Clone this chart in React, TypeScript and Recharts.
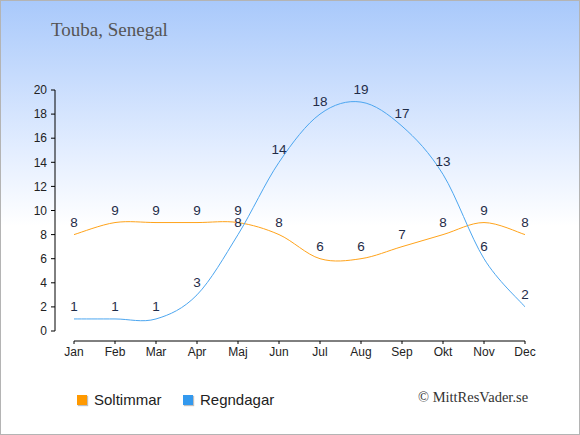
import React from "react"
import {
  LineChart,
  Line,
  XAxis,
  YAxis,
  ReferenceLine,
  LabelList,
} from "recharts"

const months = ["Jan", "Feb", "Mar", "Apr", "Maj", "Jun", "Jul", "Aug", "Sep", "Okt", "Nov", "Dec"]
const soltimmar = [8, 9, 9, 9, 9, 8, 6, 6, 7, 8, 9, 8]
const regndagar = [1, 1, 1, 3, 8, 14, 18, 19, 17, 13, 6, 2]
const yTicks = [0, 2, 4, 6, 8, 10, 12, 14, 16, 18, 20]

const SUN = "#ffa31a"
const RAIN = "#4ca6f0"
const SUN_KEY = "#ff9900"
const RAIN_KEY = "#3399ee"
const LABEL = "#1f2c48"

// x domain starts a bit left of Jan so the y axis stands apart from the first point
const X_MIN = -19 / 41
const Y_MIN = -10 / 12.05

const data = months.map((m, i) => ({
  idx: i,
  month: m,
  sol: soltimmar[i],
  regn: regndagar[i],
}))

// catmull-rom style spline, like the old highcharts "spline" look
function splineCurve(context: any) {
  let pts: [number, number][] = []
  return {
    areaStart() {},
    areaEnd() {},
    lineStart() {
      pts = []
    },
    point(x: number, y: number) {
      pts.push([+x, +y])
    },
    lineEnd() {
      if (!pts.length) return
      context.moveTo(pts[0][0], pts[0][1])
      for (let i = 0; i < pts.length - 1; i++) {
        const p0 = pts[i - 1] || pts[i]
        const p1 = pts[i]
        const p2 = pts[i + 1]
        const p3 = pts[i + 2] || pts[i + 1]
        const c1x = p1[0] + (p2[0] - p0[0]) / 6
        const c1y = p1[1] + (p2[1] - p0[1]) / 6
        const c2x = p2[0] - (p3[0] - p1[0]) / 6
        const c2y = p2[1] - (p3[1] - p1[1]) / 6
        context.bezierCurveTo(c1x, c1y, c2x, c2y, p2[0], p2[1])
      }
    },
  }
}

const tickStyle = { fill: "#222", fontSize: 12, fontFamily: "Liberation Sans, Arial, sans-serif" }

// value label drawn above each point
function ValueLabel(props: any) {
  const { x, y, value } = props
  return (
    <text
      x={x}
      y={y - 8}
      textAnchor="middle"
      fill={LABEL}
      fontSize={13.5}
      fontFamily="Liberation Sans, Arial, sans-serif"
    >
      {value}
    </text>
  )
}

const legendItems = [
  { name: "Soltimmar", color: SUN_KEY },
  { name: "Regndagar", color: RAIN_KEY },
]

export default function App() {
  return (
    <div
      style={{
        position: "absolute",
        left: 0,
        top: 0,
        width: 578,
        height: 433,
        border: "1px solid #b4b4b4",
        background: "linear-gradient(to bottom, #a9c9fb 0%, #e4eeff 35%, #ffffff 52%, #ffffff 100%)",
        overflow: "hidden",
      }}
    >
      <div
        style={{
          position: "absolute",
          left: 50,
          top: 18,
          fontFamily: "Liberation Serif, Georgia, serif",
          fontSize: 19,
          color: "#555",
        }}
      >
        Touba, Senegal
      </div>
      <div
        style={{
          position: "absolute",
          left: 417,
          top: 388,
          fontFamily: "Liberation Serif, Georgia, serif",
          fontSize: 14.5,
          color: "#333",
        }}
      >
        © MittResVader.se
      </div>
      {/* legend */}
      <div
        style={{
          position: "absolute",
          left: 76,
          top: 390,
          display: "flex",
          alignItems: "center",
          fontFamily: "Liberation Sans, Arial, sans-serif",
          fontSize: 15,
          color: "#222",
        }}
      >
        {legendItems.map((it, i) => (
          <div key={i} style={{ display: "flex", alignItems: "center", width: 106 }}>
            <div
              style={{
                width: 10,
                height: 10,
                background: it.color,
                marginRight: 7,
                boxShadow: "1px 1px 1px rgba(0,0,0,0.25)",
              }}
            />
            <span>{it.name}</span>
          </div>
        ))}
      </div>
      <div style={{ position: "absolute", left: -1, top: -1 }}>
        <LineChart
          width={580}
          height={435}
          data={data}
          margin={{ top: 90, right: 55, left: 15, bottom: 64 }}
        >
          <XAxis
            dataKey="idx"
            type="number"
            domain={[X_MIN, 11]}
            ticks={months.map((_, i) => i)}
            tickFormatter={(v: number) => months[v]}
            allowDataOverflow
            axisLine={false}
            tickLine={{ stroke: "#000" }}
            tickSize={3}
            tickMargin={3}
            tick={tickStyle}
            height={30}
            interval={0}
          />
          <YAxis
            type="number"
            domain={[Y_MIN, 20]}
            ticks={yTicks}
            allowDataOverflow
            axisLine={false}
            tickLine={{ stroke: "#000" }}
            tickSize={4}
            tickMargin={4}
            tick={tickStyle}
            width={40}
            interval={0}
          />
          <ReferenceLine
            segment={[{ x: X_MIN, y: 0 }, { x: X_MIN, y: 20 }]}
            stroke="#000"
            strokeWidth={1}
            ifOverflow="visible"
          />
          <ReferenceLine
            segment={[{ x: 0, y: Y_MIN }, { x: 11, y: Y_MIN }]}
            stroke="#000"
            strokeWidth={1}
            ifOverflow="visible"
          />
          <Line
            dataKey="sol"
            name="Soltimmar"
            type={splineCurve as any}
            stroke={SUN}
            strokeWidth={1}
            dot={false}
            activeDot={false}
            isAnimationActive={false}
          >
            <LabelList dataKey="sol" content={<ValueLabel />} />
          </Line>
          <Line
            dataKey="regn"
            name="Regndagar"
            type={splineCurve as any}
            stroke={RAIN}
            strokeWidth={1}
            dot={false}
            activeDot={false}
            isAnimationActive={false}
          >
            <LabelList dataKey="regn" content={<ValueLabel />} />
          </Line>
        </LineChart>
      </div>
    </div>
  )
}
